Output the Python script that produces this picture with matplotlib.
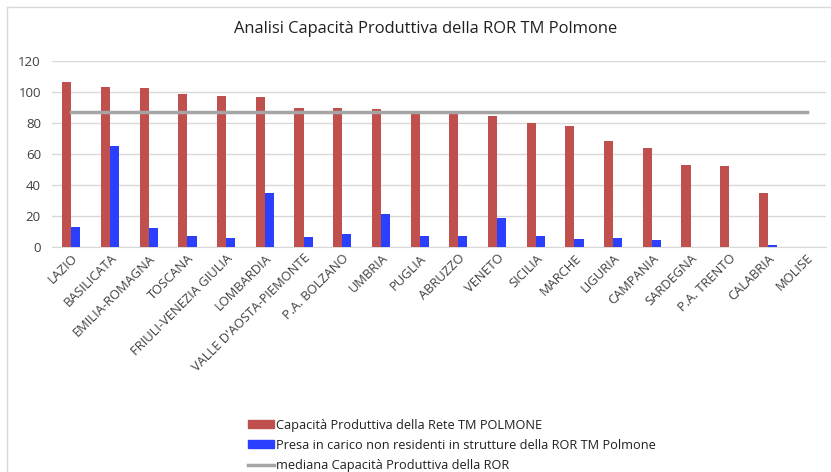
import matplotlib
matplotlib.use("Agg")
import matplotlib.pyplot as plt
import numpy as np
from matplotlib.patches import Patch
from matplotlib.lines import Line2D

plt.rcParams['font.family'] = ['Open Sans', 'DejaVu Sans']

regions = ["LAZIO", "BASILICATA", "EMILIA-ROMAGNA", "TOSCANA", "FRIULI-VENEZIA GIULIA",
           "LOMBARDIA", "VALLE D'AOSTA-PIEMONTE", "P.A. BOLZANO", "UMBRIA", "PUGLIA",
           "ABRUZZO", "VENETO", "SICILIA", "MARCHE", "LIGURIA", "CAMPANIA", "SARDEGNA",
           "P.A. TRENTO", "CALABRIA", "MOLISE"]
capacita = [106.5, 103.2, 102.4, 98.7, 97.4, 96.8, 89.5, 89.5, 89.0, 86.0,
            86.0, 84.3, 80.2, 77.9, 68.0, 63.7, 52.7, 52.3, 34.5, 0]
non_residenti = [12.5, 65.0, 12.0, 6.7, 5.8, 34.5, 6.3, 8.4, 21.1, 6.9,
                 6.7, 18.7, 6.9, 5.0, 5.8, 4.5, 0, 0, 1.0, 0]
mediana = 86.7

label_cap = "Capacità Produttiva della Rete TM POLMONE"
label_nr = "Presa in carico non residenti in strutture della ROR TM Polmone"
label_med = "mediana Capacità Produttiva della ROR"

red = "#C0504D"
blue = "#2B40FF"
gray = "#A5A5A5"

fig = plt.figure(figsize=(8.31, 4.72), dpi=100)

# chart border (left and top edges visible in the reference)
fig.add_artist(Line2D([7 / 831, 7 / 831], [0, 1 - 7 / 472], transform=fig.transFigure,
                      color='#D9D9D9', lw=1))
fig.add_artist(Line2D([7 / 831, 1], [1 - 7 / 472, 1 - 7 / 472], transform=fig.transFigure,
                      color='#D9D9D9', lw=1))

ax = fig.add_axes([0.0626, 0.477, 0.9314, 0.394])

x = np.arange(len(regions))
w = 0.235
ax.bar(x - w / 2, capacita, width=w, color=red, zorder=3)
ax.bar(x + w / 2, non_residenti, width=w, color=blue, zorder=3)
ax.plot(x, [mediana] * len(x), color=gray, lw=2.5, zorder=4)

ax.set_xlim(-0.5, len(regions) - 0.5)
ax.set_ylim(0, 120)
ax.set_yticks(range(0, 121, 20))
ax.grid(axis='y', color='#D9D9D9', lw=1, zorder=0)
for s in ['top', 'right', 'left']:
    ax.spines[s].set_visible(False)
ax.spines['bottom'].set_color('#D9D9D9')
ax.tick_params(axis='both', length=0, labelsize=9.5, colors='#404040')
ax.tick_params(axis='y', pad=8)
ax.set_xticks(x)
ax.set_xticklabels(regions, rotation=45, ha='right', rotation_mode='anchor', fontsize=9.3)

fig.suptitle("Analisi Capacità Produttiva della ROR TM Polmone", x=0.512, y=0.955,
             fontsize=11.9, color='#202020')

handles = [Patch(color=red), Patch(color=blue), Line2D([0], [0], color=gray, lw=2.5)]
fig.legend(handles, [label_cap, label_nr, label_med], loc='upper left',
           bbox_to_anchor=(0.2985, 0.113), bbox_transform=fig.transFigure,
           frameon=False, fontsize=9.2, handlelength=2.0, handleheight=0.55,
           labelspacing=0.55, handletextpad=0.2, borderpad=0, borderaxespad=0,
           labelcolor='#202020')

fig.savefig("out.png", dpi=100)
